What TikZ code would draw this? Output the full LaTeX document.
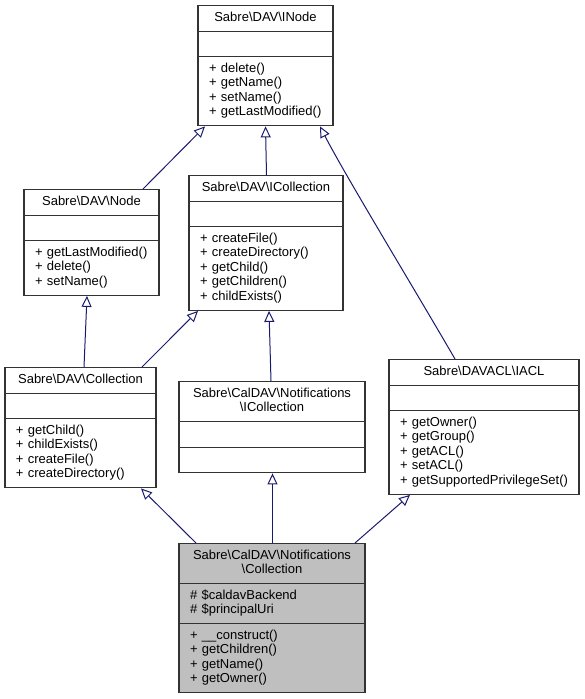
\documentclass[tikz,border=0pt]{standalone}
\usepackage{fontspec}
\setmainfont{Liberation Sans}
\usepackage{tikz}
\usetikzlibrary{arrows.meta, shapes.multipart}
\definecolor{edgeblue}{RGB}{25,25,112}
\newcommand{\ttl}[1]{{\centering\strut #1\strut\par}}
\newcommand{\bs}{\textbackslash}
\tikzset{every picture/.style={x=1pt,y=-1pt},
  cls/.style={rectangle split, rectangle split parts=3, draw=black!80, line width=1.1pt,
    fill=white, anchor=north, inner xsep=11pt, inner ysep=5pt, align=left,
    font=\fontsize{13}{14.5}\selectfont},
  base/.style={fill=black!25},
  inherit/.style={draw=edgeblue, line width=1pt, -{Triangle[open,length=11pt,width=10pt]}}}

\begin{document}
\begin{tikzpicture}
      \useasboundingbox (0,0) rectangle (585,699);

      \node[cls, minimum width=135pt, text width=113pt] (inode) at (265.5,5)
        {\ttl{Sabre\bs DAV\bs INode}\nodepart{two}\strut\nodepart{three}\strut+~delete()\\+~getName()\\+~setName()\\+~getLastModified()\strut};
      \node[cls, minimum width=135pt, text width=113pt] (node) at (91.5,189)
        {\ttl{Sabre\bs DAV\bs Node}\nodepart{two}\strut\nodepart{three}\strut+~getLastModified()\\+~delete()\\+~setName()\strut};
      \node[cls, minimum width=154pt, text width=132pt] (icoll) at (266,175)
        {\ttl{Sabre\bs DAV\bs ICollection}\nodepart{two}\strut\nodepart{three}\strut+~createFile()\\+~createDirectory()\\+~getChild()\\+~getChildren()\\+~childExists()\strut};
      \node[cls, minimum width=151pt, text width=129pt] (davcoll) at (80.5,367)
        {\ttl{Sabre\bs DAV\bs Collection}\nodepart{two}\strut\nodepart{three}\strut+~getChild()\\+~childExists()\\+~createFile()\\+~createDirectory()\strut};
      \node[cls, minimum width=186pt, text width=164pt] (nicoll) at (272,381)
        {\ttl{Sabre\bs CalDAV\bs Notifications\\\bs ICollection}\nodepart{two}\strut\nodepart{three}\strut};
      \node[cls, minimum width=190pt, text width=168pt] (iacl) at (484,359)
        {\ttl{Sabre\bs DAVACL\bs IACL}\nodepart{two}\strut\nodepart{three}\strut+~getOwner()\\+~getGroup()\\+~getACL()\\+~setACL()\\\mbox{+~getSupportedPrivilegeSet()}\strut};
      \node[cls, base, minimum width=186pt, text width=164pt] (ncoll) at (272,543)
        {\ttl{Sabre\bs CalDAV\bs Notifications\\\bs Collection}\nodepart{two}\strut\#~\$caldavBackend\\\#~\$principalUri\strut\nodepart{three}\strut+~\_\_construct()\\+~getChildren()\\+~getName()\\+~getOwner()\strut};

      \draw[inherit] ([xshift=51.5pt]node.north) -- ([xshift=-60.5pt]inode.south);
      \draw[inherit] ([xshift=0.5pt]icoll.north) -- (inode.south);
      \draw[inherit] ([xshift=-29pt]iacl.north) .. controls (415,290) and (345,175) .. ([xshift=54.5pt]inode.south);
      \draw[inherit] ([xshift=3.5pt]davcoll.north) -- ([xshift=-4.5pt]node.south);
      \draw[inherit] ([xshift=61.5pt]davcoll.north) -- ([xshift=-68pt]icoll.south);
      \draw[inherit] ([xshift=-1pt]nicoll.north) -- ([xshift=3pt]icoll.south);
      \draw[inherit] ([xshift=-76pt]ncoll.north) -- ([xshift=60.5pt]davcoll.south);
      \draw[inherit] ([xshift=0.5pt]ncoll.north) -- ([xshift=0.5pt]nicoll.south);
      \draw[inherit] ([xshift=83pt]ncoll.north) -- ([xshift=-74pt]iacl.south);
    \end{tikzpicture}
\end{document}
